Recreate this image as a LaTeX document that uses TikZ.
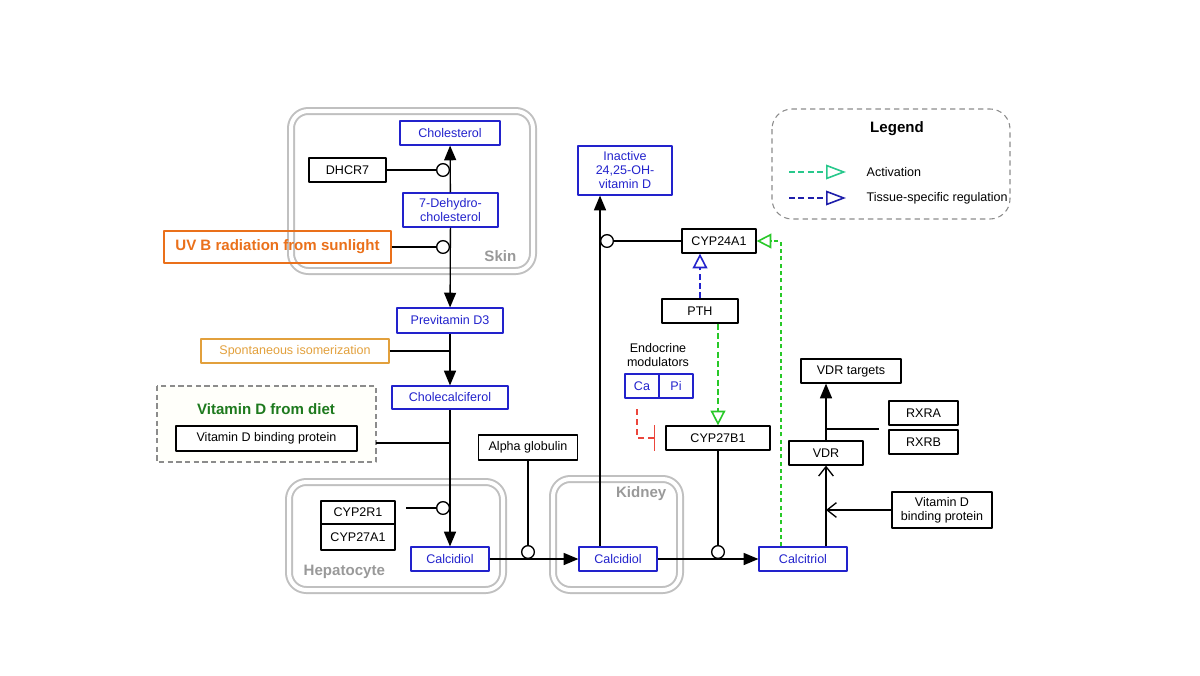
\documentclass[tikz,border=0pt]{standalone}
\usepackage{fontspec}
\setmainfont{Liberation Sans}
\usetikzlibrary{arrows.meta}
\definecolor{metblue}{RGB}{34,34,204}
\definecolor{uvorange}{RGB}{234,112,26}
\definecolor{isoorange}{RGB}{226,160,60}
\definecolor{dietgreen}{RGB}{30,122,30}
\definecolor{actgreen}{RGB}{40,200,40}
\definecolor{legteal}{RGB}{40,200,140}
\definecolor{legblue}{RGB}{30,30,170}
\definecolor{inhred}{RGB}{235,70,60}
\definecolor{compgrey}{RGB}{192,192,192}
\begin{document}
\begin{tikzpicture}[x=0.75pt, y=-0.75pt, line join=round,
  font=\fontsize{9.4}{10.5}\selectfont,
  box/.style={draw, line width=0.9pt, inner sep=1pt, minimum height=18pt, align=center},
  metab/.style={box, draw=metblue, text=metblue},
  wd/.style={minimum width=#1*0.75pt},
  ht/.style={minimum height=#1*0.75pt},
  bigbold/.style={font=\fontsize{11.3}{13}\selectfont\bfseries},
  complabel/.style={bigbold, text=black!40},
  compart/.style={draw=compgrey, line width=1.5pt, double=white, double distance=3pt, rounded corners=13pt},
  conv/.style={line width=1pt, -{Triangle[length=11pt,width=9pt]}},
  catal/.style={line width=1pt, -{Circle[open,length=10.5pt,width=10.5pt]}},
  bind/.style={line width=1pt, -{Straight Barb[length=7pt,width=11pt]}},
  act/.style={line width=1.2pt, dash pattern=on 4.5pt off 2.5pt, -{Triangle[open,length=11pt,width=11pt]}},
  inhib/.style={line width=1.1pt, draw=inhred, dash pattern=on 4.5pt off 3pt, -{Bar[width=19pt]}}]
\useasboundingbox (0,0) rectangle (1200,675);

% compartments
\draw[compart] (291,111) rectangle (533,271);
\draw[compart] (289,482) rectangle (503,590);
\draw[compart] (553,479) rectangle (680,590);
\node[complabel, anchor=east] (skinlab) at (521,256) {Skin};
\node[complabel, anchor=west] (heplab) at (299,572) {Hepatocyte};
\node[complabel, anchor=east] (kidlab) at (671,494) {Kidney};

% diet group and legend
\draw[draw=black!45, fill=black!4!yellow!2, line width=0.9pt, dash pattern=on 4pt off 2.5pt] (157,386) rectangle (376,462);
\node[bigbold, text=dietgreen] (dietlab) at (266,409) {Vitamin D from diet};
\draw[draw=black!45, line width=0.8pt, dash pattern=on 4pt off 3pt, rounded corners=15pt] (772,109) rectangle (1010,219);
\node[bigbold] (legtitle) at (897,129) {Legend};

% nodes
\node[metab, wd=100, ht=24] (chol) at (450,133) {Cholesterol};
\node[box, wd=77, ht=24] (dhcr7) at (347.5,170) {DHCR7};
\node[metab, wd=95, ht=34] (dehydro) at (450.5,210) {7-Dehydro-\\cholesterol};
\node[box, draw=uvorange, text=uvorange, bigbold, wd=227, ht=32] (uvb) at (277.5,247) {UV B radiation from sunlight};
\node[metab, wd=106, ht=25] (previt) at (450,320.5) {Previtamin D3};
\node[box, draw=isoorange, text=isoorange, wd=188, ht=24] (spont) at (295,351) {Spontaneous isomerization};
\node[metab, wd=116, ht=23] (cholecal) at (450,397.5) {Cholecalciferol};
\node[box, wd=181, ht=25, fill=white] (vdbp) at (266.5,438.5) {Vitamin D binding protein};
\node[box, wd=99, ht=25] (alpha) at (528,447.5) {Alpha globulin};
\node[box, wd=74, ht=23] (cyp2r1) at (358,512.5) {CYP2R1};
\node[box, wd=74, ht=26] (cyp27a1) at (358,537) {CYP27A1};
\node[metab, wd=78, ht=24] (calcidiolA) at (450,559) {Calcidiol};
\node[metab, wd=78, ht=24] (calcidiolB) at (618,559) {Calcidiol};
\node[metab, wd=94, ht=49] (inactive) at (625,170.5) {Inactive\\24,25-OH-\\vitamin D};
\node[box, wd=74, ht=24] (cyp24a1) at (719,241) {CYP24A1};
\node[box, wd=76, ht=24] (pth) at (700,311) {PTH};
\node[align=center] (endo) at (658,355) {Endocrine\\modulators};
\node[metab, wd=34, ht=24] (ca) at (642,386) {Ca};
\node[metab, wd=34, ht=24] (pi) at (676,386) {Pi};
\node[box, wd=104, ht=24] (cyp27b1) at (718,438) {CYP27B1};
\node[metab, wd=88, ht=24] (calcitriol) at (803,559) {Calcitriol};
\node[box, wd=74, ht=24] (vdr) at (826,453) {VDR};
\node[box, wd=100, ht=24] (vdrt) at (851,371) {VDR targets};
\node[box, wd=69, ht=24] (rxra) at (923.5,413) {RXRA};
\node[box, wd=69, ht=24] (rxrb) at (923.5,442) {RXRB};
\node[box, wd=100, ht=36] (vdbp2) at (942,510) {Vitamin D\\binding protein};

\coordinate (kup) at (600,0);
\coordinate (gx) at (781,0);
\coordinate (redstart) at (637,409);
\coordinate (rxj) at (879,429);
\coordinate (hepj) at (406,508);
\coordinate (dietj) at (376,443);

% skin and liver
\draw[conv] (dehydro) -- (chol);
\draw[catal] (dhcr7.east) -- (dhcr7.east -| chol.south);
\draw[catal] (uvb.east) -- (uvb.east -| chol.south);
\draw[conv] (dehydro) -- (previt);
\draw[line width=1pt] (spont.east) -- (spont.east -| chol.south);
\draw[conv] (previt) -- (cholecal);
\draw[line width=1pt] (dietj) -- (dietj -| chol.south);
\draw[conv] (cholecal) -- (calcidiolA);
\draw[catal] (hepj) -- (hepj -| chol.south);

% kidney
\draw[conv] (calcidiolA) -- (calcidiolB);
\draw[catal] (alpha.south) -- (alpha.south |- calcidiolA.east);
\draw[conv] (calcidiolB.north -| kup) -- (inactive.south -| kup);
\draw[catal] (cyp24a1.west) -- (cyp24a1.west -| kup);
\draw[act, draw=metblue] (pth.north) -- (pth.north |- cyp24a1.south);
\draw[act, draw=actgreen] (pth.south -| cyp27b1.north) -- (cyp27b1.north);
\draw[inhib, shorten >=7.5pt] (redstart) |- (cyp27b1.west);
\draw[conv] (calcidiolB) -- (calcitriol);
\draw[catal] (cyp27b1.south) -- (cyp27b1.south |- calcidiolB.east);
\draw[act, draw=actgreen, dash pattern=on 3pt off 2.5pt] (calcitriol.north -| gx) |- (cyp24a1.east);

% VDR
\draw[bind] (calcitriol.north -| vdr.south) -- (vdr.south);
\draw[bind] (vdbp2.west) -- (vdbp2.west -| vdr.south);
\draw[conv] (vdr.north) -- (vdr.north |- vdrt.south);
\draw[line width=1pt] (rxj -| vdr.north) -- (rxj);

% legend
\coordinate (la1) at (789,172);
\coordinate (la2) at (846,172);
\coordinate (lb1) at (789,198);
\coordinate (lb2) at (846,198);
\draw[act, draw=legteal, -{Triangle[open,length=15pt,width=11pt]}] (la1) -- (la2);
\draw[act, draw=legblue, -{Triangle[open,length=15pt,width=11pt]}] (lb1) -- (lb2);
\node[anchor=west] (actlab) at (862,172) {Activation};
\node[anchor=west] (tislab) at (862,198) {Tissue-specific regulation};
\end{tikzpicture}
\end{document}
